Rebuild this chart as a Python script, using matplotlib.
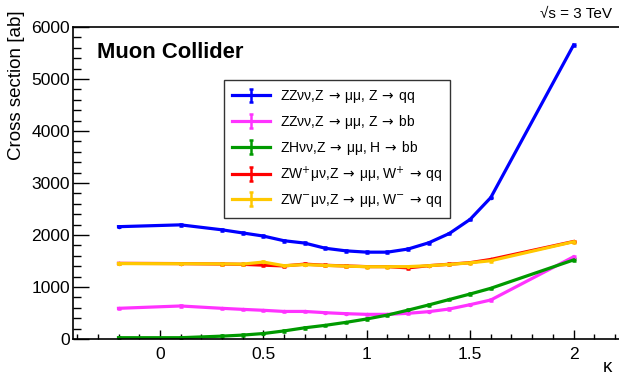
import matplotlib
matplotlib.use('Agg')
import matplotlib.pyplot as plt
from matplotlib.ticker import MultipleLocator, FuncFormatter

plt.rcParams['font.family'] = ['Liberation Sans', 'DejaVu Sans']
plt.rcParams['mathtext.fontset'] = 'dejavusans'

kappa = [-0.2, 0.1, 0.3, 0.4, 0.5, 0.6, 0.7, 0.8, 0.9, 1.0, 1.1, 1.2, 1.3, 1.4, 1.5, 1.6, 2.0]

zz_qq = [2160, 2195, 2100, 2040, 1980, 1890, 1845, 1745, 1695, 1670, 1670, 1730, 1850, 2030, 2300, 2720, 5650]
zz_bb = [590, 635, 590, 570, 552, 530, 530, 506, 487, 474, 474, 494, 526, 577, 660, 750, 1580]
zh_bb = [25, 25, 55, 75, 105, 155, 215, 263, 320, 385, 460, 555, 655, 760, 865, 975, 1520]
zwp_qq = [1455, 1450, 1442, 1436, 1420, 1405, 1440, 1418, 1405, 1392, 1392, 1368, 1410, 1438, 1468, 1530, 1875]
zwm_qq = [1450, 1448, 1445, 1440, 1480, 1410, 1430, 1415, 1402, 1390, 1390, 1392, 1410, 1434, 1465, 1505, 1870]
err = 15

arr = r'$\,\rightarrow\,$'
sep = r',$\;$'
labels = [f'ZZνν,Z{arr}μμ{sep}Z{arr}qq',
          f'ZZνν,Z{arr}μμ{sep}Z{arr}bb',
          f'ZHνν,Z{arr}μμ{sep}H{arr}bb',
          f'ZW$^{{+}}$μν,Z{arr}μμ{sep}W$^{{+}}${arr}qq',
          f'ZW$^{{-}}$μν,Z{arr}μμ{sep}W$^{{-}}${arr}qq']
colors = ['#0000ff', '#ff33ff', '#009a00', '#ff0000', '#ffc800']
series = [zz_qq, zz_bb, zh_bb, zwp_qq, zwm_qq]

fig = plt.figure(figsize=(6.19, 3.79), dpi=100)
ax = fig.add_axes([73/619, 40/379, 1 - 73/619, 312/379])

for idx, vals in enumerate(series):
    ax.errorbar(kappa, vals, yerr=err, color=colors[idx], lw=2.3,
                marker='o', markersize=1.5, capsize=1.5, elinewidth=1.8,
                capthick=1.8, label=labels[idx])

ax.set_xlim(-0.42, 2.22)
ax.set_ylim(0, 6000)
ax.spines['right'].set_visible(False)
for s in ['left', 'bottom', 'top']:
    ax.spines[s].set_linewidth(1.2)

ax.xaxis.set_major_locator(MultipleLocator(0.5))
ax.xaxis.set_minor_locator(MultipleLocator(0.1))
ax.yaxis.set_major_locator(MultipleLocator(1000))
ax.yaxis.set_minor_locator(MultipleLocator(200))
ax.xaxis.set_major_formatter(FuncFormatter(lambda v, p: f'{v:g}'))
ax.tick_params(axis='both', which='both', direction='in', labelsize=12.6, width=1)
ax.tick_params(axis='y', which='major', length=11.5, pad=2)
ax.tick_params(axis='y', which='minor', length=5.8)
ax.tick_params(axis='x', which='major', length=6.8, pad=6)
ax.tick_params(axis='x', which='minor', length=3.6)

fig.text(17/619, 1 - 10/379, 'Cross section [ab]', rotation=90,
         ha='center', va='top', fontsize=13.5)
fig.text(612/619, 1 - 368/379, 'κ', ha='right', va='center', fontsize=13.5)
fig.text(612/619, 1 - 14/379, '√s = 3 TeV', ha='right', va='center', fontsize=11)
fig.text(97/619, 1 - 52/379, 'Muon Collider', ha='left', va='center',
         fontsize=15.8, fontweight='bold')

leg = ax.legend(loc='upper left', bbox_to_anchor=(224/619, 1 - 80/379),
                bbox_transform=fig.transFigure, fontsize=10, frameon=True,
                fancybox=False, edgecolor='black', handlelength=2.7,
                labelspacing=0.55, borderpad=0.6, handletextpad=0.7,
                borderaxespad=0)
leg.get_frame().set_linewidth(1.0)

fig.savefig('out.png', dpi=100)
